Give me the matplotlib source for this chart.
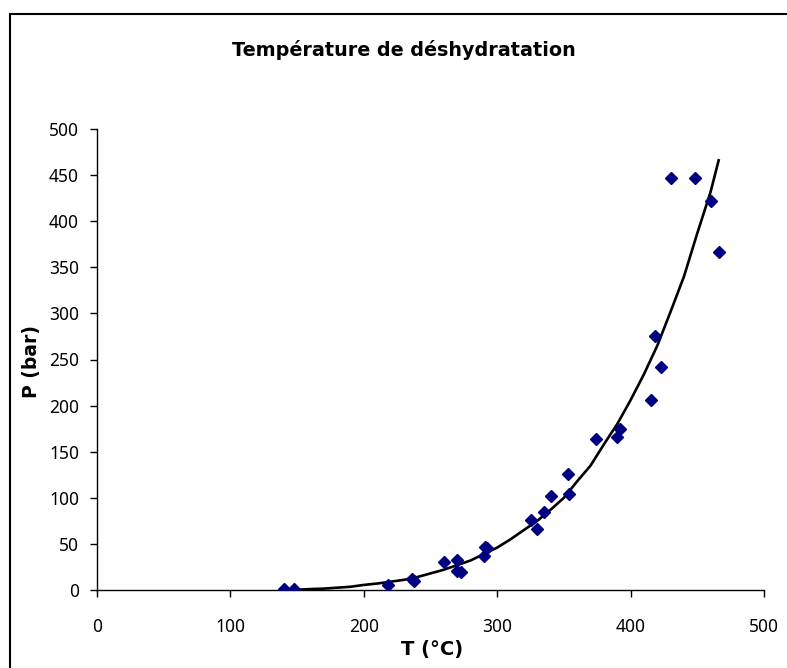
import matplotlib
matplotlib.use("Agg")
import matplotlib.pyplot as plt
from matplotlib.patches import Rectangle

plt.rcParams['font.family'] = ['Noto Sans', 'DejaVu Sans']

# measured points (T in degC, P in bar)
t_obs = [140, 148, 218, 236, 238, 260, 270, 270, 273, 291, 292, 290,
         325, 330, 335, 340, 353, 354, 374, 390, 392, 415, 423, 418,
         430, 448, 460, 466]
p_obs = [1, 1, 5, 12, 10, 30, 32, 21, 20, 47, 46, 37,
         76, 66, 85, 102, 126, 104, 164, 166, 175, 206, 242, 275,
         447, 447, 422, 367]

# fitted curve
t_fit = [140, 150, 160, 170, 180, 190, 200, 210, 220, 230, 240, 250,
         260, 270, 280, 290, 300, 310, 320, 330, 340, 350, 360, 370,
         380, 390, 400, 410, 420, 430, 440, 450, 460, 466]
p_fit = [0, 0.3, 1, 1.5, 2.5, 3.5, 5.5, 7, 9, 11, 14, 18,
         22, 27, 32, 39, 46, 55, 65, 75, 87, 100, 118, 135,
         158, 180, 206, 234, 265, 302, 340, 387, 432, 466]

title = "Température de déshydratation"
xlab = "T (°C)"
ylab = "P (bar)"

fig = plt.figure(figsize=(7.87, 6.68), dpi=100)
ax = fig.add_axes([97/787, 78/668, 667/787, 461/668])

ax.plot(t_fit, p_fit, color='black', lw=1.9, zorder=2)
ax.plot(t_obs, p_obs, 'D', color='#000080', ms=6, mec='#000080', zorder=3)

ax.set_xlim(0, 500)
ax.set_ylim(0, 500)
ax.set_xticks(range(0, 501, 100))
ax.set_yticks(range(0, 501, 50))

for s in ['top', 'right']:
    ax.spines[s].set_visible(False)
for s in ['left', 'bottom']:
    ax.spines[s].set_linewidth(1.0)

ax.tick_params(axis='x', direction='out', length=5, width=1, pad=15, labelsize=12.5)
ax.tick_params(axis='y', direction='out', length=5, width=1, pad=8, labelsize=12.5)

bold = ['DejaVu Sans']
ax.set_xlabel(xlab, fontsize=14, fontweight='bold', family=bold)
ax.xaxis.set_label_coords(0.502, -0.128)
ax.xaxis.label.set_va('center')
ax.set_ylabel(ylab, fontsize=13.5, fontweight='bold', family=bold)
ax.yaxis.set_label_coords(-0.0975, 0.495)
ax.yaxis.label.set_va('center')

fig.text(404/787, 1 - 50/668, title, ha='center', va='center',
         fontsize=13.8, fontweight='bold', family=bold)

# chart area frame, cut by the image edges on the right and bottom
fig.patches.append(Rectangle((10/787, -0.1), 1.2, 1.1 - 14/668,
                             transform=fig.transFigure, fill=False,
                             lw=1.5, ec='black'))

fig.savefig('out.png', dpi=100)
